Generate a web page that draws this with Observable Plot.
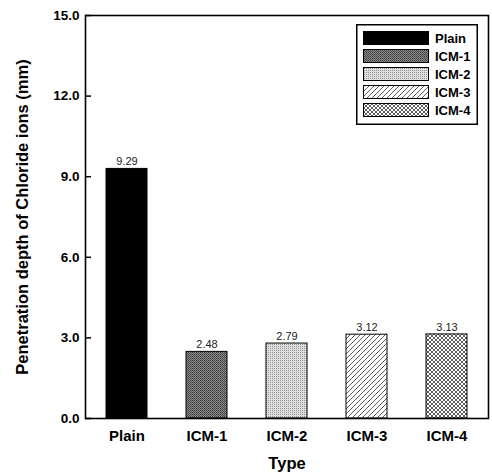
<!DOCTYPE html>
<html>
<head>
<meta charset="utf-8">
<script src="https://cdn.jsdelivr.net/npm/d3@7"></script>
<script src="https://cdn.jsdelivr.net/npm/@observablehq/plot@0.6"></script>
<style>
  body { margin: 0; background: #fff; }
  #wrap { position: relative; width: 492px; height: 474px; }
  svg { font-family: "Liberation Sans", Arial, sans-serif; }
</style>
</head>
<body>
<div id="wrap"></div>
<script>
const types = ["Plain", "ICM-1", "ICM-2", "ICM-3", "ICM-4"];
const depths = [9.29, 2.48, 2.79, 3.12, 3.13];
const valueLabels = ["9.29", "2.48", "2.79", "3.12", "3.13"];
const yTicks = [0, 3, 6, 9, 12, 15];
const fills = ["#000", "url(#p1)", "url(#p2)", "url(#p3)", "url(#p4)"];
const yTitle = "Penetration depth of Chloride ions (mm)";
const xTitle = "Type";

const data = types.map((t, i) => ({type: t, depth: depths[i], label: valueLabels[i], fill: fills[i]}));

const chart = Plot.plot({
  width: 492,
  height: 474,
  marginLeft: 85,
  marginRight: 4,
  marginTop: 15,
  marginBottom: 56,
  style: {fontFamily: "Liberation Sans, Arial, sans-serif", background: "#fff", overflow: "visible"},
  x: {domain: types, paddingInner: 0.49, paddingOuter: 0.245, align: 0.5},
  y: {domain: [0, 15]},
  marks: [
    Plot.barY(data, {x: "type", y: "depth", fill: "fill", stroke: "#000", strokeWidth: 1}),
    Plot.text(data, {x: "type", y: "depth", text: "label", dy: -7, fontSize: 11, fill: "#222"}),
    Plot.axisY({ticks: yTicks, tickFormat: d => d.toFixed(1), tickSize: -6, tickPadding: 12, fontSize: 13.5, fontWeight: "bold", strokeWidth: 1.5, label: null}),
    Plot.axisX({tickSize: 0, tickPadding: 12, fontSize: 15, fontWeight: "bold", label: null}),
    Plot.text([yTitle], {text: d => d, frameAnchor: "left", textAnchor: "middle", lineAnchor: "middle", rotate: -90, dx: -63, fontSize: 16.5, fontWeight: "bold", fill: "#000"}),
    Plot.text([xTitle], {text: d => d, frameAnchor: "bottom", lineAnchor: "middle", dy: 45, fontSize: 16.5, fontWeight: "bold", fill: "#000"}),
    Plot.frame({stroke: "#000", strokeWidth: 1.6})
  ]
});

// patterns
const defs = d3.select(chart).insert("defs", ":first-child");
const p1 = defs.append("pattern").attr("id", "p1").attr("width", 2).attr("height", 2).attr("patternUnits", "userSpaceOnUse");
p1.append("rect").attr("width", 2).attr("height", 2).attr("fill", "#8a8a8a");
p1.append("rect").attr("width", 1).attr("height", 1).attr("fill", "#3c3c3c");
p1.append("rect").attr("x", 1).attr("y", 1).attr("width", 1).attr("height", 1).attr("fill", "#505050");
const p2 = defs.append("pattern").attr("id", "p2").attr("width", 2).attr("height", 2).attr("patternUnits", "userSpaceOnUse");
p2.append("rect").attr("width", 2).attr("height", 2).attr("fill", "#e0e0e0");
p2.append("rect").attr("width", 1).attr("height", 1).attr("fill", "#909090");
const p3 = defs.append("pattern").attr("id", "p3").attr("width", 5).attr("height", 5).attr("patternUnits", "userSpaceOnUse");
p3.append("rect").attr("width", 5).attr("height", 5).attr("fill", "#fff");
p3.append("path").attr("d", "M-1,6L6,-1M-1,1L1,-1M4,6L6,4").attr("stroke", "#333").attr("stroke-width", 0.8);
const p4 = defs.append("pattern").attr("id", "p4").attr("width", 4).attr("height", 4).attr("patternUnits", "userSpaceOnUse");
p4.append("rect").attr("width", 4).attr("height", 4).attr("fill", "#fff");
p4.append("path").attr("d", "M0,0L4,4M4,0L0,4").attr("stroke", "#333").attr("stroke-width", 0.8);

const wrap = document.getElementById("wrap");
wrap.appendChild(chart);

// legend
const lg = d3.select(wrap).append("svg")
  .attr("width", 122).attr("height", 101)
  .style("position", "absolute").style("left", "356px").style("top", "24px")
  .style("font-family", "Liberation Sans, Arial, sans-serif");
lg.append("rect").attr("x", 0.75).attr("y", 0.75).attr("width", 120.5).attr("height", 99.5)
  .attr("fill", "#fff").attr("stroke", "#000").attr("stroke-width", 1.5);
types.forEach((t, i) => {
  const y = 7 + i * 18;
  lg.append("rect").attr("x", 7.5).attr("y", y + 0.5).attr("width", 65).attr("height", 13)
    .attr("fill", fills[i]).attr("stroke", "#000").attr("stroke-width", 1);
  lg.append("text").attr("x", 79).attr("y", y + 11.5).text(t)
    .attr("font-size", 13).attr("font-weight", "bold").attr("fill", "#000");
});
</script>
</body>
</html>
